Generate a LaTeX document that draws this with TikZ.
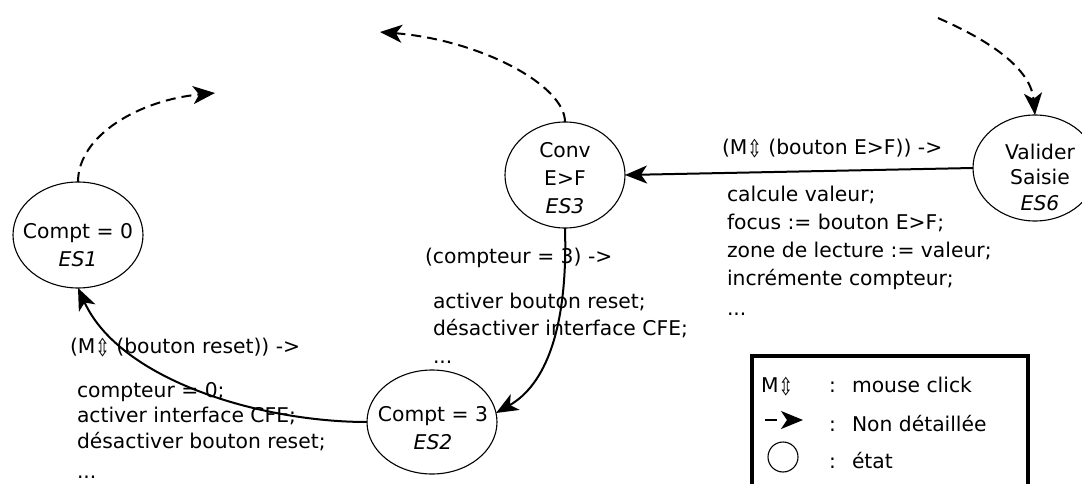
\documentclass[tikz,border=0pt]{standalone}
\usepackage{fontspec}
\setmainfont{DejaVu Sans}
\usetikzlibrary{arrows.meta,shapes.geometric}
\newcommand{\mclk}{\raisebox{-3pt}{\scalebox{0.85}[1.2]{⇳}}}
\begin{document}
\begin{tikzpicture}[x=1pt,y=-1pt,
  every node/.style={inner sep=0pt, outer sep=0pt},
  fa/.style={font=\fontsize{20.3}{25.5}\selectfont},
  fb/.style={font=\fontsize{20.3}{27.5}\selectfont},
  fc/.style={font=\fontsize{20.3}{28}\selectfont},
  state/.style={draw, ellipse, line width=1.1pt},
  conn/.style={line width=2pt, -{Stealth[length=22pt,width=18pt,inset=6pt]}},
  nd/.style={conn, dash pattern=on 10pt off 6pt},
  txt/.style={anchor=base west, align=left},
  stxt/.style={align=center}]
\useasboundingbox (0,0) rectangle (1082,484);
\clip (0,0) rectangle (1082,484);

% states
\node[state, minimum width=130pt, minimum height=106pt] (es1) at (78,235) {};
\node[stxt, fb] (t1) at (78,245) {Compt = 0\\\textit{ES1}};
\node[state, minimum width=120pt, minimum height=106pt] (es3) at (565,175) {};
\node[stxt, fc] (t3) at (565,178) {Conv\\E>F\\\textit{ES3}};
\node[state, minimum width=130pt, minimum height=104pt] (es2) at (432,422) {};
\node[stxt, fb] (t2) at (433,428) {Compt = 3\\\textit{ES2}};
\node[state, minimum width=124pt, minimum height=106pt] (es6) at (1035,168) {};
\node[stxt, fa] (t6) at (1040,177) {Valider\\Saisie\\\textit{ES6}};

% connectors
\draw[conn] (es6.west) -- (es3.east);
\draw[conn] (es3.south) .. controls (568,330) and (545,385) .. (es2.8);
\draw[conn] (es2.west) .. controls (260,422) and (120,380) .. (es1.south);

% non detailed
\coordinate (d1) at (215,93);
\coordinate (d2) at (380,32);
\coordinate (d3) at (938,18);
\draw[nd] (es1.north) .. controls (78,135) and (140,100) .. (d1);
\draw[nd] (es3.north) .. controls (565,85) and (480,40) .. (d2);
\draw[nd] (d3) .. controls (965,30) and (1030,60) .. (es6.north);

% labels (multi-line nodes are anchored at the baseline of their last line)
\node[txt, fc] (c6) at (722,155) {(M\mclk{} (bouton E>F)) ->};
\node[txt, fc] (a6) at (727,315) {calcule valeur;\\focus := bouton E>F;\\zone de lecture := valeur;\\incrémente compteur;\\[2pt]...};
\node[txt, fb] (c3) at (425,263) {(compteur = 3) ->};
\node[txt, fb] (a3) at (433,363) {activer bouton reset;\\désactiver interface CFE;\\...};
\node[txt, fa] (c1) at (70,353) {(M\mclk{} (bouton reset)) ->};
\node[txt, fa] (a1) at (77,478.5) {compteur = 0;\\activer interface CFE;\\désactiver bouton reset;\\[5pt]...};

% legend
\node[draw, line width=4pt, minimum width=276pt, minimum height=170pt, anchor=north west] (leg) at (752,355.5) {};
\node[txt, fa] (lm) at (761,392) {M\mclk};
\node[txt, fa] (l1) at (829,392) {\makebox[23pt][l]{:}mouse click};
\coordinate (la) at (765,420);
\coordinate (lb) at (803,420);
\draw[nd, dash pattern=on 12pt off 20pt] (la) -- (lb);
\node[txt, fa] (l2) at (829,431) {\makebox[23pt][l]{:}Non détaillée};
\node[draw, circle, minimum size=30pt, line width=1.1pt] (lc) at (783,457) {};
\node[txt, fa] (l3) at (829,468) {\makebox[23pt][l]{:}état};
\end{tikzpicture}
\end{document}
